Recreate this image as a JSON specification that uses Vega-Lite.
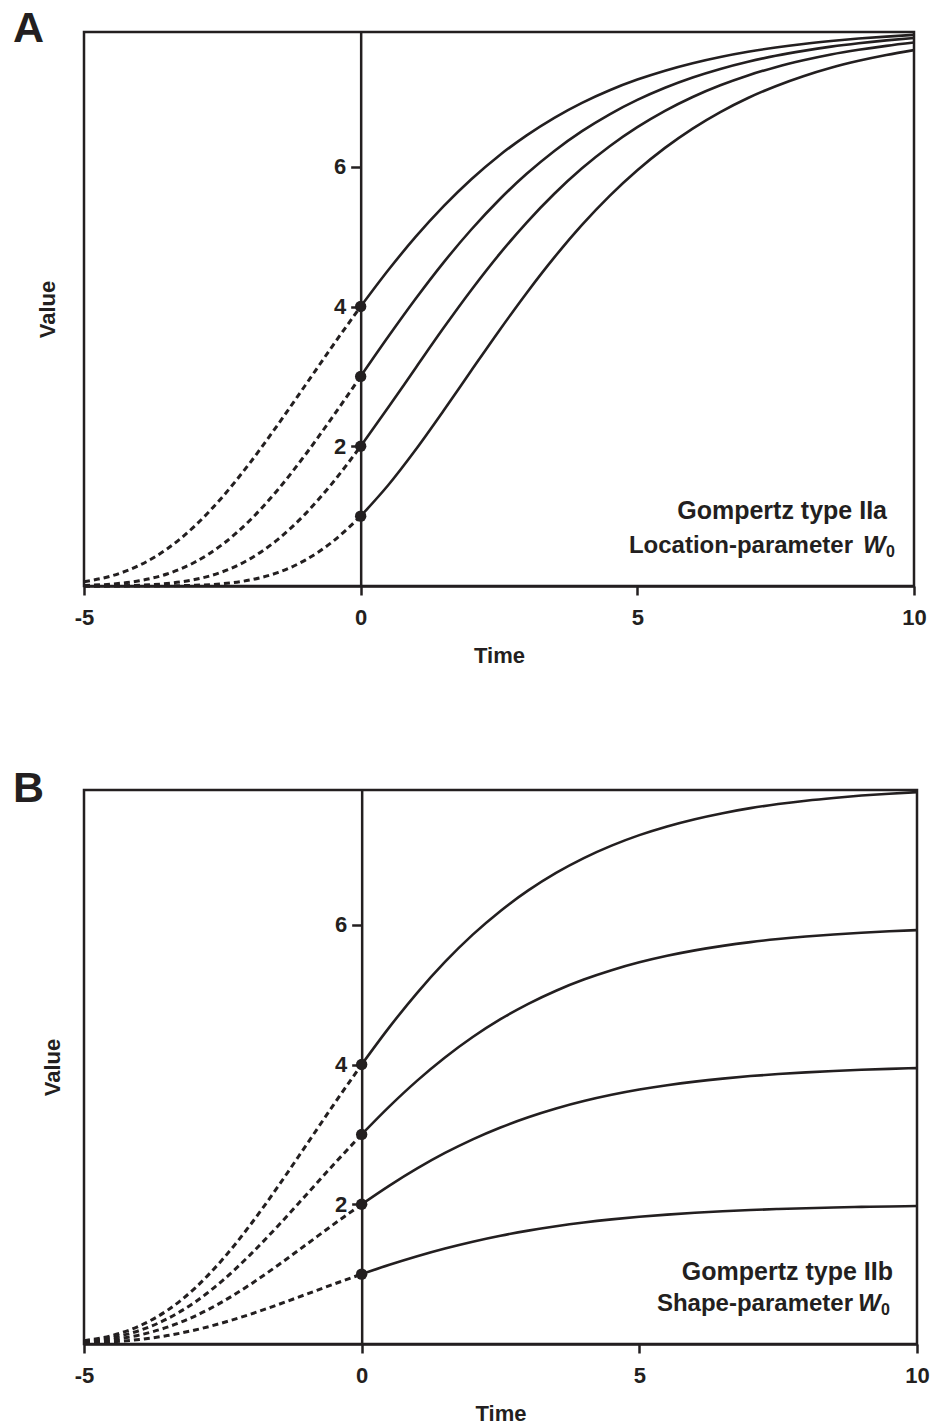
{
  "$schema": "https://vega.github.io/schema/vega-lite/v6.json",
  "padding": {"left": 11, "top": 6, "right": 5, "bottom": 5},
  "spacing": 98,
  "config": {
    "font": "Liberation Sans",
    "view": {"stroke": "#231f20", "strokeWidth": 2.5},
    "axis": {
      "grid": false,
      "domainColor": "#231f20",
      "domainWidth": 2.5,
      "tickColor": "#231f20",
      "tickWidth": 2.5,
      "labelColor": "#231f20",
      "titleColor": "#231f20",
      "labelFont": "Liberation Sans",
      "titleFont": "Liberation Sans",
      "labelFontSize": 22,
      "labelFontWeight": "bold",
      "titleFontSize": 22,
      "titleFontWeight": "bold"
    }
  },
  "datasets": {
    "a": [
      {"c":4,"t":-5,"v":0.0613},{"c":4,"t":-4.5,"v":0.1452},{"c":4,"t":-4,"v":0.2955},{"c":4,"t":-3.5,"v":0.5301},{"c":4,"t":-3,"v":0.8574},{"c":4,"t":-2.5,"v":1.2734},{"c":4,"t":-2,"v":1.7636},{"c":4,"t":-1.5,"v":2.3051},{"c":4,"t":-1,"v":2.8738},{"c":4,"t":-0.5,"v":3.4454},{"c":4,"t":0,"v":4},{"c":4,"t":0.5,"v":4.5228},{"c":4,"t":1,"v":5.0035},{"c":4,"t":1.5,"v":5.4371},{"c":4,"t":2,"v":5.8226},{"c":4,"t":2.5,"v":6.1592},{"c":4,"t":3,"v":6.451},{"c":4,"t":3.5,"v":6.7022},{"c":4,"t":4,"v":6.916},{"c":4,"t":4.5,"v":7.0968},{"c":4,"t":5,"v":7.2488},{"c":4,"t":5.5,"v":7.3761},{"c":4,"t":6,"v":7.483},{"c":4,"t":6.5,"v":7.5719},{"c":4,"t":7,"v":7.6464},{"c":4,"t":7.5,"v":7.7079},{"c":4,"t":8,"v":7.7589},{"c":4,"t":8.5,"v":7.8009},{"c":4,"t":9,"v":7.8361},{"c":4,"t":9.5,"v":7.8644},{"c":4,"t":10,"v":7.8888},
      {"c":3,"t":-5,"v":0.0081},{"c":3,"t":-4.5,"v":0.0275},{"c":3,"t":-4,"v":0.0752},{"c":3,"t":-3.5,"v":0.1718},{"c":3,"t":-3,"v":0.3393},{"c":3,"t":-2.5,"v":0.594},{"c":3,"t":-2,"v":0.9415},{"c":3,"t":-1.5,"v":1.3754},{"c":3,"t":-1,"v":1.879},{"c":3,"t":-0.5,"v":2.4289},{"c":3,"t":0,"v":3},{"c":3,"t":0.5,"v":3.5696},{"c":3,"t":1,"v":4.1179},{"c":3,"t":1.5,"v":4.6322},{"c":3,"t":2,"v":5.103},{"c":3,"t":2.5,"v":5.5258},{"c":3,"t":3,"v":5.8999},{"c":3,"t":3.5,"v":6.2274},{"c":3,"t":4,"v":6.51},{"c":3,"t":4.5,"v":6.752},{"c":3,"t":5,"v":6.9577},{"c":3,"t":5.5,"v":7.1317},{"c":3,"t":6,"v":7.2786},{"c":3,"t":6.5,"v":7.4012},{"c":3,"t":7,"v":7.504},{"c":3,"t":7.5,"v":7.5894},{"c":3,"t":8,"v":7.6602},{"c":3,"t":8.5,"v":7.7202},{"c":3,"t":9,"v":7.769},{"c":3,"t":9.5,"v":7.8095},{"c":3,"t":10,"v":7.8431},
      {"c":2,"t":-5,"v":0.0005},{"c":2,"t":-4.5,"v":0.0026},{"c":2,"t":-4,"v":0.0109},{"c":2,"t":-3.5,"v":0.0351},{"c":2,"t":-3,"v":0.0919},{"c":2,"t":-2.5,"v":0.2027},{"c":2,"t":-2,"v":0.3888},{"c":2,"t":-1.5,"v":0.6643},{"c":2,"t":-1,"v":1.0324},{"c":2,"t":-0.5,"v":1.4839},{"c":2,"t":0,"v":2},{"c":2,"t":0.5,"v":2.557},{"c":2,"t":1,"v":3.1291},{"c":2,"t":1.5,"v":3.6956},{"c":2,"t":2,"v":4.2374},{"c":2,"t":2.5,"v":4.7424},{"c":2,"t":3,"v":5.2025},{"c":2,"t":3.5,"v":5.6145},{"c":2,"t":4,"v":5.9783},{"c":2,"t":4.5,"v":6.295},{"c":2,"t":5,"v":6.5676},{"c":2,"t":5.5,"v":6.8015},{"c":2,"t":6,"v":7.0002},{"c":2,"t":6.5,"v":7.1674},{"c":2,"t":7,"v":7.3086},{"c":2,"t":7.5,"v":7.4264},{"c":2,"t":8,"v":7.5243},{"c":2,"t":8.5,"v":7.6075},{"c":2,"t":9,"v":7.6748},{"c":2,"t":9.5,"v":7.7318},{"c":2,"t":10,"v":7.7791},
      {"c":1,"t":-5,"v":0},{"c":1,"t":-4.5,"v":0},{"c":1,"t":-4,"v":0.0004},{"c":1,"t":-3.5,"v":0.0023},{"c":1,"t":-3,"v":0.0098},{"c":1,"t":-2.5,"v":0.0323},{"c":1,"t":-2,"v":0.0857},{"c":1,"t":-1.5,"v":0.1914},{"c":1,"t":-1,"v":0.3709},{"c":1,"t":-0.5,"v":0.6391},{"c":1,"t":0,"v":1},{"c":1,"t":0.5,"v":1.4455},{"c":1,"t":1,"v":1.9571},{"c":1,"t":1.5,"v":2.5117},{"c":1,"t":2,"v":3.084},{"c":1,"t":2.5,"v":3.6511},{"c":1,"t":3,"v":4.1952},{"c":1,"t":3.5,"v":4.7037},{"c":1,"t":4,"v":5.1682},{"c":1,"t":4.5,"v":5.5842},{"c":1,"t":5,"v":5.9509},{"c":1,"t":5.5,"v":6.2711},{"c":1,"t":6,"v":6.5478},{"c":1,"t":6.5,"v":6.7838},{"c":1,"t":7,"v":6.9855},{"c":1,"t":7.5,"v":7.1546},{"c":1,"t":8,"v":7.2975},{"c":1,"t":8.5,"v":7.4182},{"c":1,"t":9,"v":7.5176},{"c":1,"t":9.5,"v":7.6007},{"c":1,"t":10,"v":7.671}
    ],
    "b": [
      {"c":8,"t":-5,"v":0.0477},{"c":8,"t":-4.5,"v":0.1208},{"c":8,"t":-4,"v":0.2583},{"c":8,"t":-3.5,"v":0.4813},{"c":8,"t":-3,"v":0.801},{"c":8,"t":-2.5,"v":1.2156},{"c":8,"t":-2,"v":1.7106},{"c":8,"t":-1.5,"v":2.2624},{"c":8,"t":-1,"v":2.8446},{"c":8,"t":-0.5,"v":3.431},{"c":8,"t":0,"v":4},{"c":8,"t":0.5,"v":4.5355},{"c":8,"t":1,"v":5.027},{"c":8,"t":1.5,"v":5.4687},{"c":8,"t":2,"v":5.8594},{"c":8,"t":2.5,"v":6.1994},{"c":8,"t":3,"v":6.4925},{"c":8,"t":3.5,"v":6.7432},{"c":8,"t":4,"v":6.9556},{"c":8,"t":4.5,"v":7.1338},{"c":8,"t":5,"v":7.2838},{"c":8,"t":5.5,"v":7.4086},{"c":8,"t":6,"v":7.5123},{"c":8,"t":6.5,"v":7.5984},{"c":8,"t":7,"v":7.6702},{"c":8,"t":7.5,"v":7.7287},{"c":8,"t":8,"v":7.7768},{"c":8,"t":8.5,"v":7.8166},{"c":8,"t":9,"v":7.8502},{"c":8,"t":9.5,"v":7.877},{"c":8,"t":10,"v":7.899},
      {"c":6,"t":-5,"v":0.0358},{"c":6,"t":-4.5,"v":0.0906},{"c":6,"t":-4,"v":0.1937},{"c":6,"t":-3.5,"v":0.3609},{"c":6,"t":-3,"v":0.6008},{"c":6,"t":-2.5,"v":0.9117},{"c":6,"t":-2,"v":1.2829},{"c":6,"t":-1.5,"v":1.6968},{"c":6,"t":-1,"v":2.1335},{"c":6,"t":-0.5,"v":2.5732},{"c":6,"t":0,"v":3},{"c":6,"t":0.5,"v":3.4016},{"c":6,"t":1,"v":3.7703},{"c":6,"t":1.5,"v":4.1015},{"c":6,"t":2,"v":4.3945},{"c":6,"t":2.5,"v":4.6495},{"c":6,"t":3,"v":4.8694},{"c":6,"t":3.5,"v":5.0574},{"c":6,"t":4,"v":5.2167},{"c":6,"t":4.5,"v":5.3503},{"c":6,"t":5,"v":5.4628},{"c":6,"t":5.5,"v":5.5565},{"c":6,"t":6,"v":5.6342},{"c":6,"t":6.5,"v":5.6988},{"c":6,"t":7,"v":5.7526},{"c":6,"t":7.5,"v":5.7965},{"c":6,"t":8,"v":5.8326},{"c":6,"t":8.5,"v":5.8624},{"c":6,"t":9,"v":5.8877},{"c":6,"t":9.5,"v":5.9077},{"c":6,"t":10,"v":5.9243},
      {"c":4,"t":-5,"v":0.0239},{"c":4,"t":-4.5,"v":0.0604},{"c":4,"t":-4,"v":0.1291},{"c":4,"t":-3.5,"v":0.2406},{"c":4,"t":-3,"v":0.4005},{"c":4,"t":-2.5,"v":0.6078},{"c":4,"t":-2,"v":0.8553},{"c":4,"t":-1.5,"v":1.1312},{"c":4,"t":-1,"v":1.4223},{"c":4,"t":-0.5,"v":1.7155},{"c":4,"t":0,"v":2},{"c":4,"t":0.5,"v":2.2678},{"c":4,"t":1,"v":2.5135},{"c":4,"t":1.5,"v":2.7344},{"c":4,"t":2,"v":2.9297},{"c":4,"t":2.5,"v":3.0997},{"c":4,"t":3,"v":3.2462},{"c":4,"t":3.5,"v":3.3716},{"c":4,"t":4,"v":3.4778},{"c":4,"t":4.5,"v":3.5669},{"c":4,"t":5,"v":3.6419},{"c":4,"t":5.5,"v":3.7043},{"c":4,"t":6,"v":3.7562},{"c":4,"t":6.5,"v":3.7992},{"c":4,"t":7,"v":3.8351},{"c":4,"t":7.5,"v":3.8644},{"c":4,"t":8,"v":3.8884},{"c":4,"t":8.5,"v":3.9083},{"c":4,"t":9,"v":3.9251},{"c":4,"t":9.5,"v":3.9385},{"c":4,"t":10,"v":3.9495},
      {"c":2,"t":-5,"v":0.0119},{"c":2,"t":-4.5,"v":0.0302},{"c":2,"t":-4,"v":0.0646},{"c":2,"t":-3.5,"v":0.1203},{"c":2,"t":-3,"v":0.2003},{"c":2,"t":-2.5,"v":0.3039},{"c":2,"t":-2,"v":0.4276},{"c":2,"t":-1.5,"v":0.5656},{"c":2,"t":-1,"v":0.7112},{"c":2,"t":-0.5,"v":0.8577},{"c":2,"t":0,"v":1},{"c":2,"t":0.5,"v":1.1339},{"c":2,"t":1,"v":1.2568},{"c":2,"t":1.5,"v":1.3672},{"c":2,"t":2,"v":1.4648},{"c":2,"t":2.5,"v":1.5498},{"c":2,"t":3,"v":1.6231},{"c":2,"t":3.5,"v":1.6858},{"c":2,"t":4,"v":1.7389},{"c":2,"t":4.5,"v":1.7834},{"c":2,"t":5,"v":1.8209},{"c":2,"t":5.5,"v":1.8522},{"c":2,"t":6,"v":1.8781},{"c":2,"t":6.5,"v":1.8996},{"c":2,"t":7,"v":1.9175},{"c":2,"t":7.5,"v":1.9322},{"c":2,"t":8,"v":1.9442},{"c":2,"t":8.5,"v":1.9541},{"c":2,"t":9,"v":1.9626},{"c":2,"t":9.5,"v":1.9692},{"c":2,"t":10,"v":1.9748}
    ]
  },
  "vconcat": [
    {
      "width": 830,
      "height": 554,
      "encoding": {
        "x": {"field": "t", "type": "quantitative", "scale": {"domain": [-5, 10], "nice": false, "zero": false},
          "axis": {"values": [-5, 0, 5, 10], "title": "Time", "tickSize": 9, "labelPadding": 12, "titlePadding": 17, "labelFlush": false, "labelExpr": "datum.value < 0 ? '-' + abs(datum.value) : datum.label"}},
        "y": {"field": "v", "type": "quantitative", "scale": {"domain": [0, 7.93], "nice": false},
          "axis": {"values": [2, 4, 6], "title": "Value", "offset": -276.67, "tickSize": 10, "labelPadding": 5, "titleX": -312.7, "titleY": 277, "titleAngle": -90, "titleAlign": "center", "titleBaseline": "middle"}}
      },
      "layer": [
        {"data": {"name": "a"}, "transform": [{"filter": "datum.t <= 0"}],
          "mark": {"type": "line", "strokeDash": [6, 4], "strokeWidth": 3, "color": "#231f20", "interpolate": "monotone"},
          "encoding": {"detail": {"field": "c", "type": "nominal"}}},
        {"data": {"name": "a"}, "transform": [{"filter": "datum.t >= 0"}],
          "mark": {"type": "line", "strokeWidth": 2.6, "color": "#231f20", "interpolate": "monotone"},
          "encoding": {"detail": {"field": "c", "type": "nominal"}}},
        {"data": {"name": "a"}, "transform": [{"filter": "datum.t == 0"}],
          "mark": {"type": "circle", "size": 130, "opacity": 1, "color": "#231f20"}},
        {"data": {"values": [{"t": -5, "v": 7.93, "s": "A"}]},
          "mark": {"type": "text", "align": "left", "baseline": "alphabetic", "dx": -71, "dy": 10, "fontSize": 43, "fontWeight": "bold", "font": "Liberation Sans", "color": "#231f20"},
          "encoding": {"text": {"field": "s"}}},
        {"data": {"values": [{"t": 10, "v": 0.958, "s": "Gompertz type IIa"}]},
          "mark": {"type": "text", "align": "right", "baseline": "alphabetic", "dx": -27, "fontSize": 25, "fontWeight": "bold", "font": "Liberation Sans", "color": "#231f20"},
          "encoding": {"text": {"field": "s"}}},
        {"data": {"values": [{"t": 10, "v": 0.472, "s": "Location-parameter"}]},
          "mark": {"type": "text", "align": "right", "baseline": "alphabetic", "dx": -61, "fontSize": 24, "fontWeight": "bold", "font": "Liberation Sans", "color": "#231f20"},
          "encoding": {"text": {"field": "s"}}},
        {"data": {"values": [{"t": 10, "v": 0.472, "s": "W"}]},
          "mark": {"type": "text", "align": "left", "baseline": "alphabetic", "dx": -51, "fontSize": 24, "fontWeight": "bold", "fontStyle": "italic", "font": "Liberation Sans", "color": "#231f20"},
          "encoding": {"text": {"field": "s"}}},
        {"data": {"values": [{"t": 10, "v": 0.472, "s": "0"}]},
          "mark": {"type": "text", "align": "left", "baseline": "alphabetic", "dx": -28, "dy": 4, "fontSize": 16, "fontWeight": "bold", "font": "Liberation Sans", "color": "#231f20"},
          "encoding": {"text": {"field": "s"}}}
      ]
    },
    {
      "width": 833,
      "height": 554,
      "encoding": {
        "x": {"field": "t", "type": "quantitative", "scale": {"domain": [-5, 10], "nice": false, "zero": false},
          "axis": {"values": [-5, 0, 5, 10], "title": "Time", "tickSize": 9, "labelPadding": 12, "titlePadding": 17, "labelFlush": false, "labelExpr": "datum.value < 0 ? '-' + abs(datum.value) : datum.label"}},
        "y": {"field": "v", "type": "quantitative", "scale": {"domain": [0, 7.93], "nice": false},
          "axis": {"values": [2, 4, 6], "title": "Value", "offset": -277.67, "tickSize": 10, "labelPadding": 5, "titleX": -308.7, "titleY": 277, "titleAngle": -90, "titleAlign": "center", "titleBaseline": "middle"}}
      },
      "layer": [
        {"data": {"name": "b"}, "transform": [{"filter": "datum.t <= 0"}],
          "mark": {"type": "line", "strokeDash": [6, 4], "strokeWidth": 3, "color": "#231f20", "interpolate": "monotone"},
          "encoding": {"detail": {"field": "c", "type": "nominal"}}},
        {"data": {"name": "b"}, "transform": [{"filter": "datum.t >= 0"}],
          "mark": {"type": "line", "strokeWidth": 2.6, "color": "#231f20", "interpolate": "monotone"},
          "encoding": {"detail": {"field": "c", "type": "nominal"}}},
        {"data": {"name": "b"}, "transform": [{"filter": "datum.t == 0"}],
          "mark": {"type": "circle", "size": 130, "opacity": 1, "color": "#231f20"}},
        {"data": {"values": [{"t": -5, "v": 7.93, "s": "B"}]},
          "mark": {"type": "text", "align": "left", "baseline": "alphabetic", "dx": -71, "dy": 12, "fontSize": 43, "fontWeight": "bold", "font": "Liberation Sans", "color": "#231f20"},
          "encoding": {"text": {"field": "s"}}},
        {"data": {"values": [{"t": 10, "v": 0.916, "s": "Gompertz type IIb"}]},
          "mark": {"type": "text", "align": "right", "baseline": "alphabetic", "dx": -24, "fontSize": 25, "fontWeight": "bold", "font": "Liberation Sans", "color": "#231f20"},
          "encoding": {"text": {"field": "s"}}},
        {"data": {"values": [{"t": 10, "v": 0.472, "s": "Shape-parameter"}]},
          "mark": {"type": "text", "align": "right", "baseline": "alphabetic", "dx": -64, "fontSize": 24, "fontWeight": "bold", "font": "Liberation Sans", "color": "#231f20"},
          "encoding": {"text": {"field": "s"}}},
        {"data": {"values": [{"t": 10, "v": 0.472, "s": "W"}]},
          "mark": {"type": "text", "align": "left", "baseline": "alphabetic", "dx": -59, "fontSize": 24, "fontWeight": "bold", "fontStyle": "italic", "font": "Liberation Sans", "color": "#231f20"},
          "encoding": {"text": {"field": "s"}}},
        {"data": {"values": [{"t": 10, "v": 0.472, "s": "0"}]},
          "mark": {"type": "text", "align": "left", "baseline": "alphabetic", "dx": -36, "dy": 4, "fontSize": 16, "fontWeight": "bold", "font": "Liberation Sans", "color": "#231f20"},
          "encoding": {"text": {"field": "s"}}}
      ]
    }
  ]
}
